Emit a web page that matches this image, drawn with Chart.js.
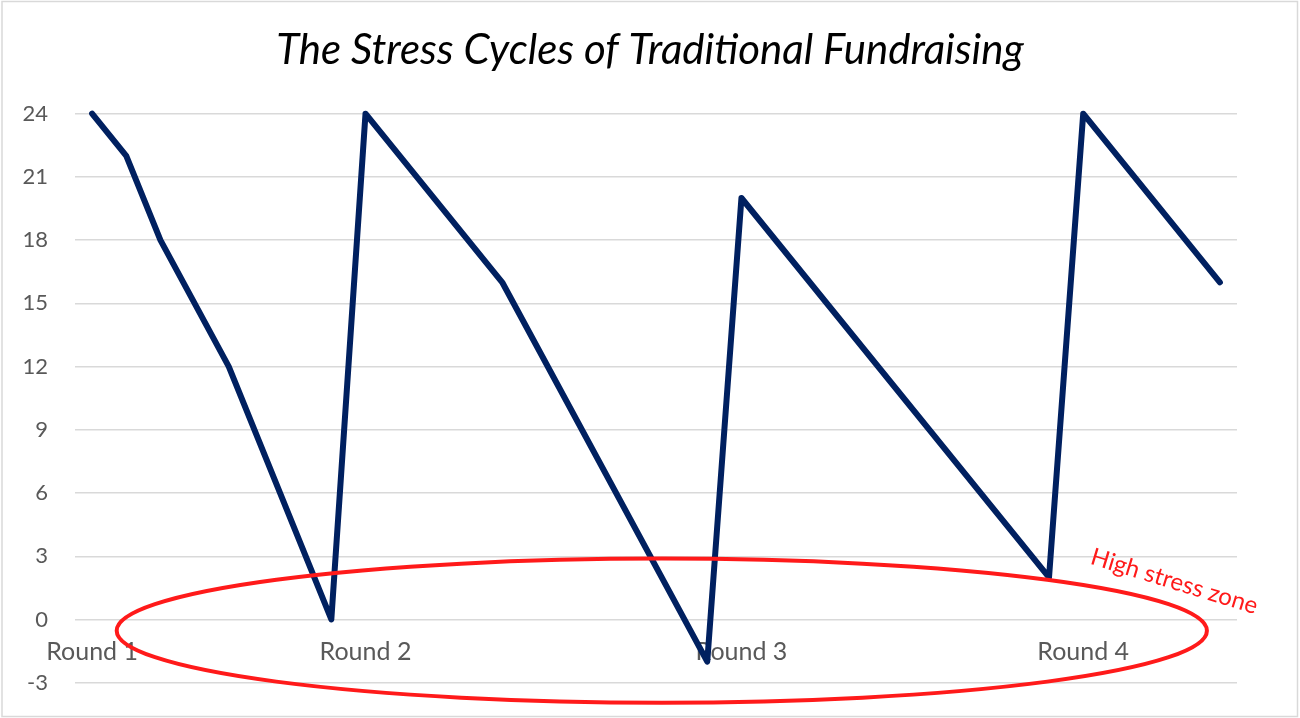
<!DOCTYPE html>
<html>
<head>
<meta charset="utf-8">
<script src="https://cdn.jsdelivr.net/npm/chart.js@4.4.1/dist/chart.umd.min.js"></script>
<style>
html,body{margin:0;padding:0;background:#ffffff;}
#wrap{width:1300px;height:718px;position:relative;}
</style>
</head>
<body>
<div id="wrap"><canvas id="c" width="1300" height="718"></canvas></div>
<script>
// ---- data ----
const chartTitle = 'The Stress Cycles of Traditional Fundraising';
const categoryIndex = [0, 1, 2, 4, 7, 8, 12, 18, 19, 28, 29, 33];
const stressValues  = [24, 22, 18, 12, 0, 24, 16, -2, 20, 2, 24, 16];
const roundPositions = [0, 8, 19, 29];
const roundLabels = ['Round 1', 'Round 2', 'Round 3', 'Round 4'];
const yMin = -3, yMax = 24, yStep = 3;
const categoryCount = 34;
const zoneLabel = 'High stress zone';
const zoneEllipse = { cx: 16.67, cy: -0.53, rx: 15.95, ry: 3.42 };
const zoneLabelAt = { x: 31.6, y: 1.45 };

const FONT = 'Lato, "Open Sans", "Noto Sans", sans-serif';

const annotationPlugin = {
  id: 'stressZone',
  afterDatasetsDraw(chart) {
    const { ctx, scales } = chart;
    const xs = scales.x, ys = scales.y;
    const cx = xs.getPixelForValue(zoneEllipse.cx);
    const cy = ys.getPixelForValue(zoneEllipse.cy);
    const rx = xs.getPixelForValue(zoneEllipse.cx + zoneEllipse.rx) - cx;
    const ry = ys.getPixelForValue(zoneEllipse.cy - zoneEllipse.ry) - cy;
    ctx.save();
    ctx.strokeStyle = '#FF1A1A';
    ctx.lineWidth = 4;
    ctx.beginPath();
    ctx.ellipse(cx, cy, Math.abs(rx), Math.abs(ry), 0, 0, Math.PI * 2);
    ctx.stroke();
    const tx = xs.getPixelForValue(zoneLabelAt.x);
    const ty = ys.getPixelForValue(zoneLabelAt.y);
    ctx.translate(tx, ty);
    ctx.rotate(17 * Math.PI / 180);
    ctx.fillStyle = '#FF1A1A';
    ctx.font = '24px ' + FONT;
    ctx.textAlign = 'center';
    ctx.textBaseline = 'alphabetic';
    ctx.fillText(zoneLabel, 0, 0);
    ctx.restore();
  },
  afterDraw(chart) {
    const { ctx } = chart;
    ctx.save();
    ctx.strokeStyle = '#d9d9d9';
    ctx.lineWidth = 1.5;
    ctx.strokeRect(2, 1.5, 1295.5, 715);
    ctx.restore();
  }
};

new Chart(document.getElementById('c'), {
  type: 'line',
  data: {
    datasets: [{
      data: categoryIndex.map((x, i) => ({ x: x, y: stressValues[i] })),
      borderColor: '#002060',
      borderWidth: 6,
      pointRadius: 0,
      tension: 0,
      borderJoinStyle: 'round',
      borderCapStyle: 'round',
      clip: false
    }]
  },
  options: {
    responsive: false,
    animation: false,
    events: [],
    layout: { padding: { left: 0, right: 0, top: 0, bottom: 35.3 } },
    plugins: {
      legend: { display: false },
      tooltip: { enabled: false },
      title: {
        display: true,
        text: chartTitle,
        color: '#000000',
        font: { family: FONT, size: 42, style: 'italic', weight: 'normal', lineHeight: 1.2 },
        padding: { top: 25, bottom: 38.3 }
      }
    },
    scales: {
      x: {
        type: 'linear',
        position: { y: 0 },
        min: -0.5,
        max: categoryCount - 0.5,
        afterBuildTicks(axis) { axis.ticks = roundPositions.map(v => ({ value: v })); },
        grid: { display: false },
        border: { display: false },
        ticks: {
          autoSkip: false,
          maxRotation: 0,
          padding: 9,
          color: '#595959',
          font: { family: FONT, size: 25 },
          callback: (v) => roundLabels[roundPositions.indexOf(v)]
        }
      },
      y: {
        position: 'left',
        min: yMin,
        max: yMax,
        afterFit(axis) { axis.width = 75; },
        border: { display: false },
        grid: { color: '#d9d9d9', lineWidth: 1.5, drawTicks: true, tickLength: 27, tickColor: 'rgba(0,0,0,0)' },
        ticks: {
          stepSize: yStep,
          padding: 0,
          color: '#595959',
          font: { family: FONT, size: 22 }
        }
      },
      yRight: {
        position: 'right',
        min: yMin,
        max: yMax,
        afterFit(axis) { axis.width = 63; },
        border: { display: false },
        grid: { display: false },
        ticks: { display: false }
      }
    }
  },
  plugins: [annotationPlugin]
});
</script>
</body>
</html>
